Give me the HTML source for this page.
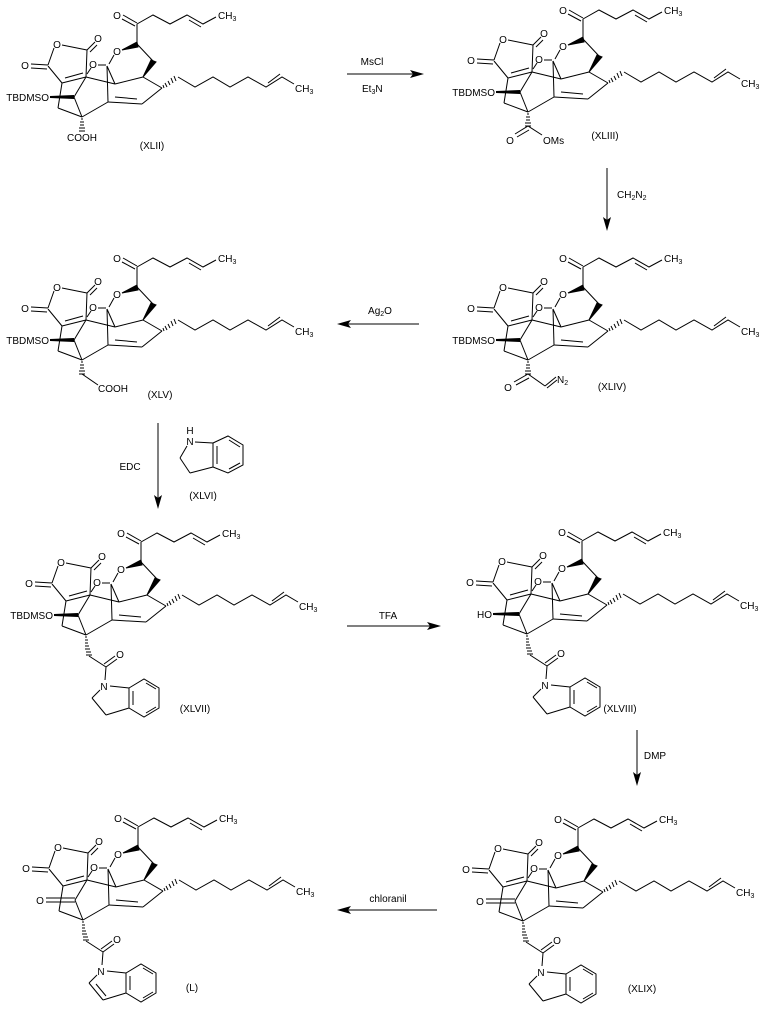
<!DOCTYPE html>
<html><head><meta charset="utf-8"><style>
html,body{margin:0;padding:0;background:#fff;}
svg{display:block;}
text{font-family:"Liberation Sans",sans-serif;font-size:10px;fill:#000;}
</style></head><body>
<svg width="764" height="1015" viewBox="0 0 764 1015" xmlns="http://www.w3.org/2000/svg">
<defs>
<g id="core" stroke="#000" stroke-width="1" fill="none">
  <line x1="123" y1="15" x2="137" y2="23"/><line x1="122" y1="19" x2="135" y2="26"/>
  <polyline points="137,24 153,15 170,24 187,15 203,24 216,17"/>
  <line x1="189" y1="20" x2="201" y2="27"/>
  <line x1="137" y1="24" x2="137" y2="44"/>
  <polygon points="122,50 137,42 138,47" fill="#000"/>
  <line x1="137" y1="44" x2="153" y2="61"/>
  <polygon points="151,60 156,62 143,77" fill="#000"/>
  <line x1="143" y1="77" x2="162" y2="88"/>
  <g stroke-width="1">
    <line x1="164" y1="88" x2="163" y2="85"/><line x1="167" y1="87" x2="165" y2="83"/>
    <line x1="170" y1="85" x2="168" y2="81"/><line x1="173" y1="83" x2="171" y2="78"/>
    <line x1="176" y1="81" x2="174" y2="76"/>
  </g>
  <polyline points="178,77 195,87 213,77 230,87 248,77 266,87 282,77 294,84"/>
  <line x1="268" y1="83" x2="280" y2="74"/>
  <line x1="162" y1="88" x2="142" y2="104"/>
  <line x1="142" y1="104" x2="108" y2="102"/>
  <line x1="115" y1="97" x2="137" y2="99"/>
  <line x1="108" y1="102" x2="107" y2="66"/>
  <line x1="109" y1="64" x2="114" y2="55"/>
  <line x1="98" y1="65" x2="106" y2="65"/>
  <line x1="107" y1="66" x2="115" y2="84"/>
  <line x1="115" y1="84" x2="143" y2="77"/>
  <line x1="86" y1="77" x2="115" y2="84"/>
  <line x1="62" y1="45" x2="87" y2="50"/>
  <line x1="54" y1="48" x2="48" y2="65"/>
  <line x1="48" y1="66" x2="62" y2="83"/>
  <line x1="62" y1="83" x2="86" y2="77"/>
  <line x1="65" y1="78" x2="83" y2="73"/>
  <line x1="86" y1="77" x2="87" y2="50"/>
  <line x1="87" y1="50" x2="95" y2="42"/><line x1="90" y1="52" x2="97" y2="45"/>
  <line x1="31" y1="64" x2="48" y2="65"/><line x1="31" y1="68" x2="47" y2="69"/>
  <line x1="87" y1="74" x2="91" y2="68"/>
  <line x1="86" y1="77" x2="74" y2="97"/>
  <line x1="62" y1="83" x2="58" y2="108"/>
  <line x1="74" y1="97" x2="82" y2="117"/>
  <line x1="58" y1="108" x2="82" y2="117"/>
  <line x1="82" y1="117" x2="108" y2="102"/>
</g>
<g id="hash" stroke="#000" stroke-width="1">
  <line x1="81" y1="119" x2="83" y2="119"/><line x1="80" y1="122" x2="84" y2="122"/>
  <line x1="80" y1="125" x2="84" y2="125"/><line x1="79" y1="128" x2="85" y2="128"/>
  <line x1="79" y1="131" x2="85" y2="131"/>
</g>
<g id="hash2" stroke="#000" stroke-width="1">
  <line x1="81" y1="119" x2="83" y2="119"/><line x1="81" y1="122" x2="84" y2="122"/>
  <line x1="81" y1="125" x2="84" y2="125"/><line x1="81" y1="128" x2="85" y2="128"/>
  <line x1="81" y1="131" x2="86" y2="131"/><line x1="82" y1="134" x2="87" y2="134"/>
  <line x1="82" y1="137" x2="88" y2="137"/>
</g>
<g id="amide" stroke="#000" stroke-width="1" fill="none">
  <line x1="85" y1="138" x2="102" y2="149"/>
  <line x1="102" y1="149" x2="113" y2="141"/><line x1="100" y1="146" x2="111" y2="138"/>
  <line x1="102" y1="149" x2="101" y2="162"/>
  <line x1="96" y1="172" x2="88" y2="180"/>
  <line x1="88" y1="180" x2="102" y2="197"/>
  <line x1="102" y1="197" x2="125" y2="190"/>
  <line x1="106" y1="168" x2="125" y2="170"/>
  <polygon points="125,170 140,161 155,170 155,190 140,199 125,190"/>
  <line x1="129" y1="173" x2="129" y2="187"/>
  <line x1="142" y1="165" x2="152" y2="171"/>
  <line x1="152" y1="189" x2="142" y2="195"/>
</g>
<g id="ketoneO" stroke="#000" stroke-width="1">
  <line x1="45" y1="95" x2="74" y2="95"/><line x1="45" y1="99" x2="74" y2="99"/>
</g>
<polygon id="tb" points="50,96 74,95 74,99 50,98" fill="#000"/>
</defs>

<!-- XLII -->
<g transform="translate(0,0)">
<use href="#core"/><use href="#tb"/><use href="#hash"/>
<text x="117" y="19" text-anchor="middle">O</text>
<text x="218" y="19">CH<tspan font-size="7" dy="2">3</tspan></text>
<text x="117" y="55" text-anchor="middle">O</text>
<text x="93" y="68" text-anchor="middle">O</text>
<text x="57" y="48" text-anchor="middle">O</text>
<text x="98" y="42" text-anchor="middle">O</text>
<text x="25" y="69" text-anchor="middle">O</text>
<text x="295" y="92">CH<tspan font-size="7" dy="2">3</tspan></text>
<text x="49" y="101" text-anchor="end">TBDMSO</text>
<text x="82" y="141" text-anchor="middle">COOH</text>
<text x="152" y="149" text-anchor="middle">(XLII)</text>
</g>

<!-- XLIII -->
<g transform="translate(446,-5)">
<use href="#core"/><use href="#tb"/><use href="#hash"/>
<text x="117" y="19" text-anchor="middle">O</text>
<text x="218" y="19">CH<tspan font-size="7" dy="2">3</tspan></text>
<text x="117" y="55" text-anchor="middle">O</text>
<text x="93" y="68" text-anchor="middle">O</text>
<text x="57" y="48" text-anchor="middle">O</text>
<text x="98" y="42" text-anchor="middle">O</text>
<text x="25" y="69" text-anchor="middle">O</text>
<text x="295" y="92">CH<tspan font-size="7" dy="2">3</tspan></text>
<text x="49" y="101" text-anchor="end">TBDMSO</text>
<g stroke="#000"><line x1="82" y1="131" x2="69" y2="139"/><line x1="83" y1="135" x2="71" y2="142"/><line x1="82" y1="131" x2="96" y2="140"/></g>
<text x="64" y="149" text-anchor="middle">O</text>
<text x="97" y="149">OMs</text>
<text x="159" y="144" text-anchor="middle">(XLIII)</text>
</g>

<!-- XLIV -->
<g transform="translate(446,243)">
<use href="#core"/><use href="#tb"/><use href="#hash"/>
<text x="117" y="19" text-anchor="middle">O</text>
<text x="218" y="19">CH<tspan font-size="7" dy="2">3</tspan></text>
<text x="117" y="55" text-anchor="middle">O</text>
<text x="93" y="68" text-anchor="middle">O</text>
<text x="57" y="48" text-anchor="middle">O</text>
<text x="98" y="42" text-anchor="middle">O</text>
<text x="25" y="69" text-anchor="middle">O</text>
<text x="295" y="92">CH<tspan font-size="7" dy="2">3</tspan></text>
<text x="49" y="101" text-anchor="end">TBDMSO</text>
<g stroke="#000"><line x1="82" y1="131" x2="68" y2="139"/><line x1="83" y1="135" x2="70" y2="142"/><line x1="82" y1="131" x2="99" y2="143"/><line x1="99" y1="143" x2="110" y2="134"/><line x1="101" y1="145" x2="111" y2="137"/></g>
<text x="62" y="148" text-anchor="middle">O</text>
<text x="111" y="140">N<tspan font-size="7" dy="2">2</tspan></text>
<text x="166" y="147" text-anchor="middle">(XLIV)</text>
</g>

<!-- XLV -->
<g transform="translate(0,243)">
<use href="#core"/><use href="#tb"/><use href="#hash"/>
<text x="117" y="19" text-anchor="middle">O</text>
<text x="218" y="19">CH<tspan font-size="7" dy="2">3</tspan></text>
<text x="117" y="55" text-anchor="middle">O</text>
<text x="93" y="68" text-anchor="middle">O</text>
<text x="57" y="48" text-anchor="middle">O</text>
<text x="98" y="42" text-anchor="middle">O</text>
<text x="25" y="69" text-anchor="middle">O</text>
<text x="295" y="92">CH<tspan font-size="7" dy="2">3</tspan></text>
<text x="49" y="101" text-anchor="end">TBDMSO</text>
<line x1="82" y1="131" x2="98" y2="142" stroke="#000"/>
<text x="98" y="149">COOH</text>
<text x="160" y="155" text-anchor="middle">(XLV)</text>
</g>

<!-- XLVII -->
<g transform="translate(4,518)">
<use href="#core"/><use href="#tb"/><use href="#hash2"/><use href="#amide"/>
<text x="117" y="19" text-anchor="middle">O</text>
<text x="218" y="19">CH<tspan font-size="7" dy="2">3</tspan></text>
<text x="117" y="55" text-anchor="middle">O</text>
<text x="93" y="68" text-anchor="middle">O</text>
<text x="57" y="48" text-anchor="middle">O</text>
<text x="98" y="42" text-anchor="middle">O</text>
<text x="25" y="69" text-anchor="middle">O</text>
<text x="295" y="92">CH<tspan font-size="7" dy="2">3</tspan></text>
<text x="49" y="101" text-anchor="end">TBDMSO</text>
<text x="116" y="140" text-anchor="middle">O</text>
<text x="100" y="172" text-anchor="middle">N</text>
<text x="191" y="194" text-anchor="middle">(XLVII)</text>
</g>

<!-- XLVIII -->
<g transform="translate(445,517)">
<use href="#core"/><use href="#hash2"/><use href="#amide"/>
<polygon points="48,96 74,95 74,99 48,98" fill="#000"/>
<text x="117" y="19" text-anchor="middle">O</text>
<text x="218" y="19">CH<tspan font-size="7" dy="2">3</tspan></text>
<text x="117" y="55" text-anchor="middle">O</text>
<text x="93" y="68" text-anchor="middle">O</text>
<text x="57" y="48" text-anchor="middle">O</text>
<text x="98" y="42" text-anchor="middle">O</text>
<text x="25" y="69" text-anchor="middle">O</text>
<text x="295" y="92">CH<tspan font-size="7" dy="2">3</tspan></text>
<text x="47" y="101" text-anchor="end">HO</text>
<text x="116" y="140" text-anchor="middle">O</text>
<text x="100" y="172" text-anchor="middle">N</text>
<text x="175" y="195" text-anchor="middle">(XLVIII)</text>
</g>

<!-- XLIX -->
<g transform="translate(441,804)">
<use href="#core"/><use href="#ketoneO"/><use href="#hash2"/><use href="#amide"/>
<text x="117" y="19" text-anchor="middle">O</text>
<text x="218" y="19">CH<tspan font-size="7" dy="2">3</tspan></text>
<text x="117" y="55" text-anchor="middle">O</text>
<text x="93" y="68" text-anchor="middle">O</text>
<text x="57" y="48" text-anchor="middle">O</text>
<text x="98" y="42" text-anchor="middle">O</text>
<text x="25" y="69" text-anchor="middle">O</text>
<text x="295" y="92">CH<tspan font-size="7" dy="2">3</tspan></text>
<text x="39" y="101" text-anchor="middle">O</text>
<text x="116" y="140" text-anchor="middle">O</text>
<text x="100" y="172" text-anchor="middle">N</text>
<text x="201" y="188" text-anchor="middle">(XLIX)</text>
</g>

<!-- L -->
<g transform="translate(1,803)">
<use href="#core"/><use href="#ketoneO"/><use href="#hash2"/><use href="#amide"/>
<line x1="95" y1="181" x2="105" y2="193" stroke="#000"/>
<text x="117" y="19" text-anchor="middle">O</text>
<text x="218" y="19">CH<tspan font-size="7" dy="2">3</tspan></text>
<text x="117" y="55" text-anchor="middle">O</text>
<text x="93" y="68" text-anchor="middle">O</text>
<text x="57" y="48" text-anchor="middle">O</text>
<text x="98" y="42" text-anchor="middle">O</text>
<text x="25" y="69" text-anchor="middle">O</text>
<text x="295" y="92">CH<tspan font-size="7" dy="2">3</tspan></text>
<text x="39" y="101" text-anchor="middle">O</text>
<text x="116" y="140" text-anchor="middle">O</text>
<text x="100" y="172" text-anchor="middle">N</text>
<text x="191" y="188" text-anchor="middle">(L)</text>
</g>

<!-- XLVI indoline -->
<g stroke="#000" fill="none">
  <line x1="187" y1="446" x2="180" y2="458"/>
  <line x1="180" y1="458" x2="190" y2="473"/>
  <line x1="190" y1="473" x2="213" y2="467"/>
  <line x1="195" y1="442" x2="213" y2="443"/>
  <polygon points="213,443 228,436 243,445 243,465 228,473 213,467"/>
  <line x1="217" y1="446" x2="217" y2="464"/>
  <line x1="229" y1="440" x2="240" y2="447"/>
  <line x1="240" y1="463" x2="229" y2="469"/>
</g>
<text x="190" y="434" text-anchor="middle">H</text>
<text x="190" y="445" text-anchor="middle">N</text>
<text x="203" y="499" text-anchor="middle">(XLVI)</text>

<!-- arrows -->
<g stroke="#000" stroke-width="1">
  <line x1="347" y1="74" x2="415" y2="74"/>
  <line x1="607" y1="168" x2="607" y2="222"/>
  <line x1="345" y1="324" x2="419" y2="324"/>
  <line x1="158" y1="423" x2="158" y2="500"/>
  <line x1="347" y1="626" x2="432" y2="626"/>
  <line x1="637" y1="730" x2="637" y2="777"/>
  <line x1="346" y1="910" x2="437" y2="910"/>
</g>
<g fill="#000">
  <polygon points="424,74 410,70 413,74 410,78"/>
  <polygon points="607,231 603,217 607,220 611,217"/>
  <polygon points="337,324 351,320 348,324 351,328"/>
  <polygon points="158,509 154,495 158,498 162,495"/>
  <polygon points="441,626 427,622 430,626 427,630"/>
  <polygon points="637,786 633,772 637,775 641,772"/>
  <polygon points="337,910 351,906 348,910 351,914"/>
</g>
<text x="372" y="65" text-anchor="middle">MsCl</text>
<text x="362" y="92">Et<tspan font-size="7" dy="2">3</tspan><tspan dy="-2">N</tspan></text>
<text x="617" y="198">CH<tspan font-size="7" dy="2">2</tspan><tspan dy="-2">N</tspan><tspan font-size="7" dy="2">2</tspan></text>
<text x="380" y="314" text-anchor="middle">Ag<tspan font-size="7" dy="2">2</tspan><tspan dy="-2">O</tspan></text>
<text x="130" y="470" text-anchor="middle">EDC</text>
<text x="388" y="619" text-anchor="middle">TFA</text>
<text x="655" y="759" text-anchor="middle">DMP</text>
<text x="388" y="902" text-anchor="middle">chloranil</text>
</svg>
</body></html>
